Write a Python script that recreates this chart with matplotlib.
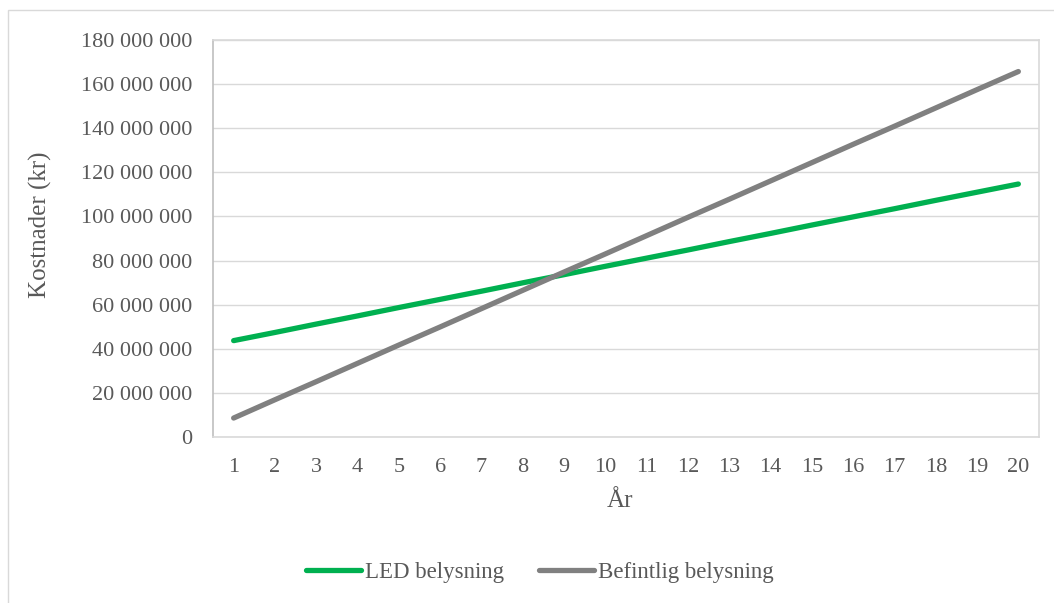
import matplotlib
matplotlib.use("Agg")
import matplotlib.pyplot as plt
from matplotlib.patches import Rectangle
from matplotlib.ticker import FuncFormatter, MultipleLocator

# Cumulative costs (million kr) per year
years = list(range(1, 21))
led_cost = [43.7, 47.4, 51.2, 54.9, 58.7, 62.4, 66.1, 69.9, 73.6, 77.4,
            81.1, 84.8, 88.6, 92.3, 96.1, 99.8, 103.5, 107.3, 111.0, 114.7]
existing_cost = [8.6, 16.9, 25.1, 33.4, 41.7, 49.9, 58.2, 66.5, 74.8, 83.0,
                 91.3, 99.6, 107.8, 116.1, 124.4, 132.7, 140.9, 149.2, 157.5, 165.7]
series_labels = ["LED belysning", "Befintlig belysning"]
x_label = "År"
y_label = "Kostnader (kr)"

text_color = "#595959"
plt.rcParams["font.family"] = ["Liberation Serif", "DejaVu Serif"]

W, H = 1054, 603
fig = plt.figure(figsize=(W / 100, H / 100), dpi=100)
fig.patch.set_facecolor("white")

# chart frame
fig.add_artist(Rectangle((8 / W, -0.1), 1.2, (H - 10) / H + 0.1,
                         transform=fig.transFigure, fill=False,
                         edgecolor="#D9D9D9", linewidth=1.0))

ax = fig.add_axes([213 / W, 1 - 437 / H, (1039 - 213) / W, (437 - 40) / H])

ax.plot(years, [v * 1e6 for v in led_cost], color="#00B050", lw=3.8,
        solid_capstyle="round", label=series_labels[0])
ax.plot(years, [v * 1e6 for v in existing_cost], color="#808080", lw=3.8,
        solid_capstyle="round", label=series_labels[1])

ax.set_xlim(0.5, 20.5)
ax.set_ylim(0, 180e6)
ax.yaxis.set_major_locator(MultipleLocator(20e6))
ax.set_xticks(years)
ax.yaxis.set_major_formatter(
    FuncFormatter(lambda v, p: f"{int(round(v)):,}".replace(",", " ")))

ax.grid(axis="y", color="#D9D9D9", lw=1.0)
ax.set_axisbelow(True)
for side in ["top", "right", "bottom"]:
    ax.spines[side].set_color("#D9D9D9")
ax.spines["left"].set_color("#BFBFBF")
for s in ax.spines.values():
    s.set_linewidth(1.2)

ax.tick_params(axis="both", length=0, labelsize=16, labelcolor=text_color)
ax.tick_params(axis="y", pad=15)
ax.tick_params(axis="x", pad=15)

ax.set_xlabel(x_label, fontsize=18, color=text_color)
ax.set_ylabel(y_label, fontsize=18, color=text_color)
ax.xaxis.set_label_coords((620 - 213) / 826, (437 - 501) / 397)
ax.yaxis.set_label_coords((40 - 213) / 826, (437 - 225) / 397)
ax.xaxis.label.set_va("center")
ax.yaxis.label.set_va("center")

fig.legend(loc="center", bbox_to_anchor=(540 / W, 1 - 572 / H), ncol=2,
           frameon=False, fontsize=16.5, handlelength=2.4, handletextpad=0.2,
           columnspacing=1.5, labelcolor=text_color)

fig.savefig("out.png", dpi=100, facecolor="white")
